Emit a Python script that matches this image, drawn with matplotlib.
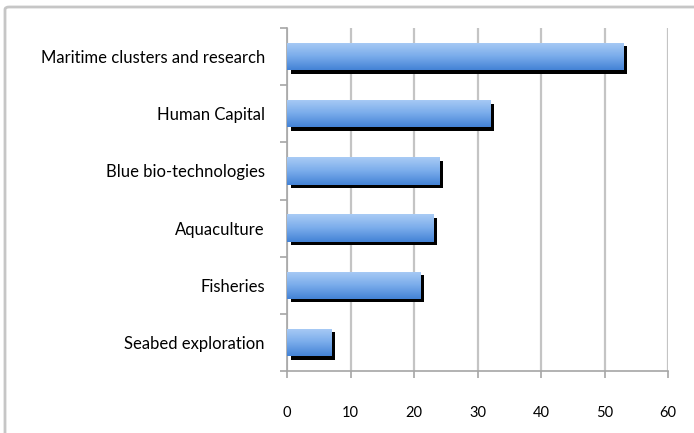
import numpy as np
import matplotlib
matplotlib.use("Agg")
import matplotlib.pyplot as plt
from matplotlib.patches import Rectangle, FancyBboxPatch
from matplotlib.colors import LinearSegmentedColormap

# data (top to bottom as shown)
categories = ["Maritime clusters and research", "Human Capital", "Blue bio-technologies",
              "Aquaculture", "Fisheries", "Seabed exploration"]
values = [53, 32, 24, 23, 21, 7]
x_ticks = [0, 10, 20, 30, 40, 50, 60]

plt.rcParams['font.family'] = ['Lato', 'DejaVu Sans']

fig = plt.figure(figsize=(6.94, 4.33), dpi=100)
W, H = 694, 433
ax = fig.add_axes([287 / W, 1 - 371 / H, (668 - 287) / W, (371 - 28) / H])

# outer chart border
fig.patches.append(FancyBboxPatch((5 / W, -0.1), 1.2, 1 - 7 / H + 0.1,
                                  boxstyle="round,pad=0,rounding_size=0.006",
                                  transform=fig.transFigure, fill=False,
                                  edgecolor="#c6c6c6", linewidth=2, zorder=0))

n = len(categories)
ypos = np.arange(n)[::-1]
bar_h = 0.48
cmap = LinearSegmentedColormap.from_list("bl", ["#a9cbf5", "#7aaceb", "#4483d6"])
grad = np.linspace(0, 1, 64).reshape(-1, 1)

# shadow offset in data units
dx = 60 / 381 * 3.5
dy = n / 343 * 3.5

for y, v in zip(ypos, values):
    ax.add_patch(Rectangle((dx, y - bar_h / 2 - dy), v, bar_h, facecolor="black",
                           edgecolor="none", zorder=3))
    im = ax.imshow(grad, cmap=cmap, aspect="auto", origin="upper",
                   extent=(0, v, y - bar_h / 2, y + bar_h / 2), zorder=4)
    clip = Rectangle((0, y - bar_h / 2), v, bar_h, transform=ax.transData,
                     facecolor="none", edgecolor="none")
    ax.add_patch(clip)
    im.set_clip_path(clip)

ax.set_xlim(0, 60)
ax.set_ylim(-0.5, n - 0.5)
ax.set_xticks(x_ticks)
ax.set_xticklabels([str(t) for t in x_ticks], fontsize=10.5)
ax.set_yticks(ypos)
ax.set_yticklabels(categories, fontsize=12)
ax.set_yticks(np.arange(n + 1) - 0.5, minor=True)

ax.grid(axis="x", color="#c4c4c4", linewidth=1.6, zorder=1)
ax.set_axisbelow(True)
for s in ["top", "right"]:
    ax.spines[s].set_visible(False)
for s in ["left", "bottom"]:
    ax.spines[s].set_color("#a6a6a6")
    ax.spines[s].set_linewidth(1.2)

ax.tick_params(axis="y", which="major", length=0, pad=16)
ax.tick_params(axis="y", which="minor", length=5, color="#a6a6a6", width=1.2)
ax.tick_params(axis="x", length=5, color="#a6a6a6", width=1.2, pad=20)

fig.savefig("out.png", dpi=100)
